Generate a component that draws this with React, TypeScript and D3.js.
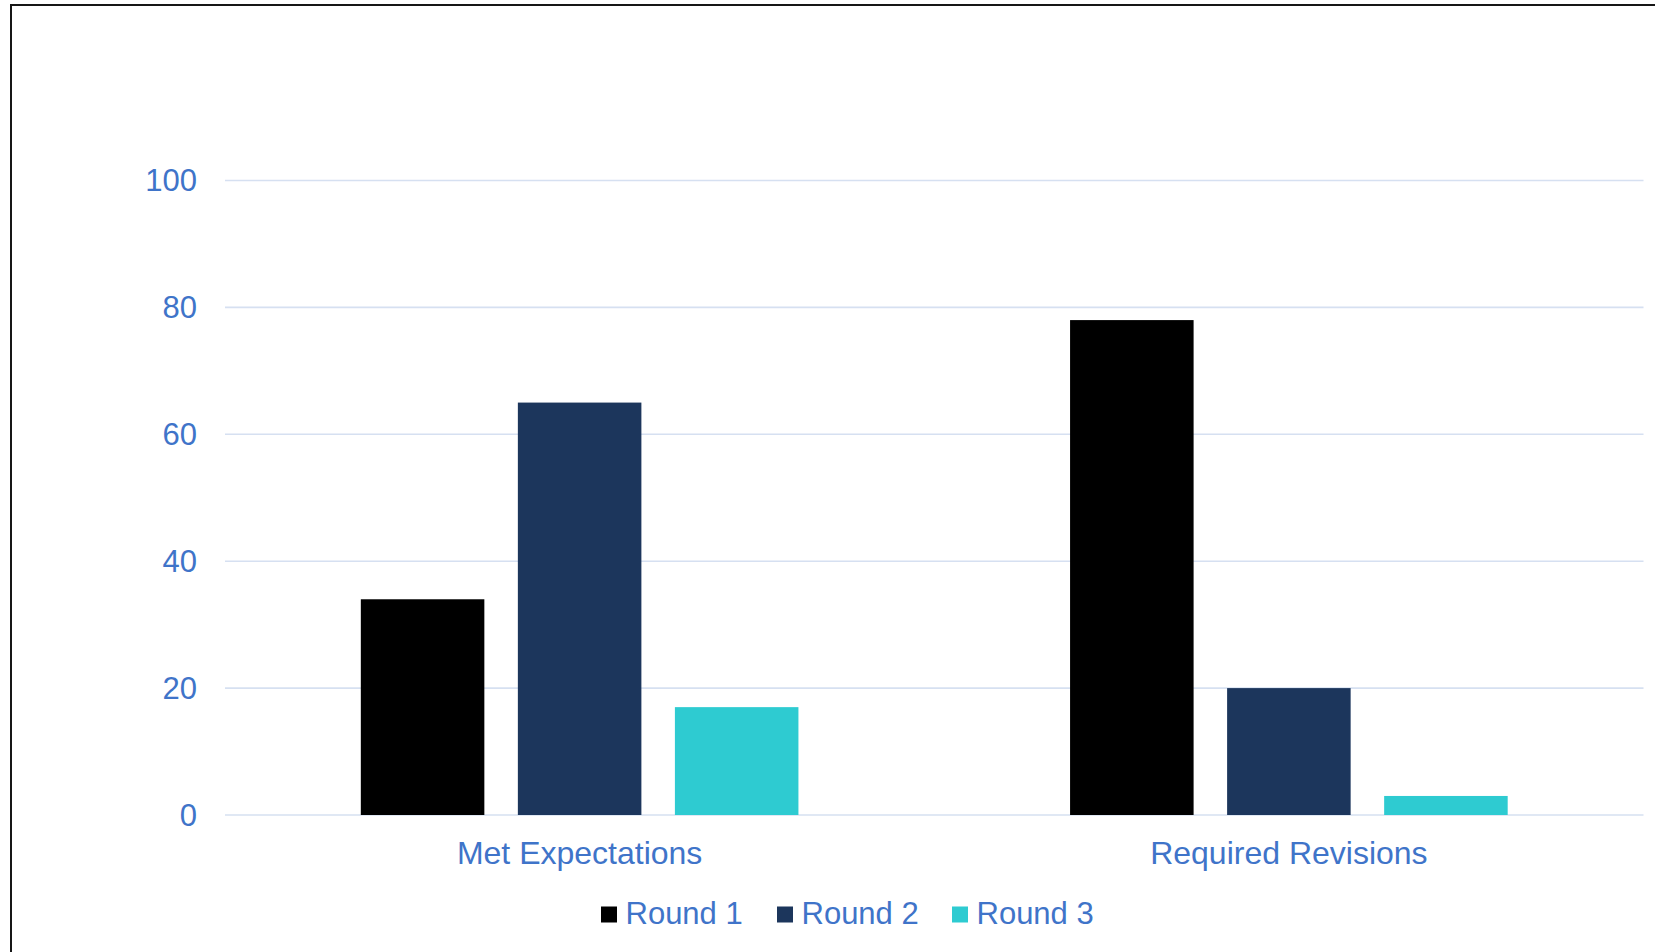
import React from "react";
import * as d3 from "d3";

// Chart data
const categories = ["Met Expectations", "Required Revisions"];
const seriesNames = ["Round 1", "Round 2", "Round 3"];
const round1 = [34, 78];
const round2 = [65, 20];
const round3 = [17, 3];
const yTicks = [0, 20, 40, 60, 80, 100];

const seriesValues = [round1, round2, round3];
const seriesColors = ["#000000", "#1c365c", "#2ecbd1"];

const W = 1655;
const H = 952;
const FONT = "'Liberation Sans', Arial, sans-serif";
const TEXT = "#3f74c9";
const GRID = "#d6e0f1";
const FS = 31;
const FS_CAT = 32;

export default function App() {
  const x0 = d3.scaleBand<string>().domain(categories).range([225, 1643.5]).paddingInner(0).paddingOuter(0);
  const y = d3.scaleLinear().domain([0, 100]).range([815, 180.5]);
  const groupFrac = 0.617;

  const legendX = [601, 777, 952];

  return (
    <div style={{ position: "absolute", left: 0, top: 0, width: W, height: H, overflow: "hidden", background: "#fff" }}>
      <svg width={W} height={H} style={{ display: "block" }} fontFamily={FONT}>
        <rect x={0} y={0} width={W} height={H} fill="#ffffff" />
        {/* outer frame */}
        <path d={`M11,${H} V5 H${W}`} fill="none" stroke="#161616" strokeWidth={2} />

        {/* gridlines */}
        {yTicks.map((t) => (
          <line key={"g" + t} x1={225} x2={1643.5} y1={y(t)} y2={y(t)} stroke={GRID} strokeWidth={1.6} />
        ))}

        {/* y tick labels */}
        {yTicks.map((t) => (
          <text key={"t" + t} x={197} y={y(t) + 10.5} textAnchor="end" fontSize={FS} fill={TEXT}>
            {t}
          </text>
        ))}

        {/* bars */}
        {categories.map((c, ci) => {
          const bw = x0.bandwidth();
          const center = (x0(c) as number) + bw / 2;
          const half = (bw * groupFrac) / 2;
          const x1 = d3.scaleBand<string>().domain(seriesNames).range([center - half, center + half]).paddingInner(0.2134).paddingOuter(0);
          return (
            <g key={c}>
              {seriesNames.map((s, si) => {
                const v = seriesValues[si][ci];
                return (
                  <rect
                    key={s}
                    x={x1(s) as number}
                    y={y(v)}
                    width={x1.bandwidth()}
                    height={y(0) - y(v)}
                    fill={seriesColors[si]}
                  />
                );
              })}
              <text x={center} y={864} textAnchor="middle" fontSize={FS_CAT} fill={TEXT}>
                {c}
              </text>
            </g>
          );
        })}

        {/* legend */}
        {seriesNames.map((s, i) => (
          <g key={"l" + s}>
            <rect x={legendX[i]} y={906.5} width={16} height={16} fill={seriesColors[i]} />
            <text x={legendX[i] + 24.5} y={924} fontSize={FS} fill={TEXT}>
              {s}
            </text>
          </g>
        ))}
      </svg>
    </div>
  );
}
